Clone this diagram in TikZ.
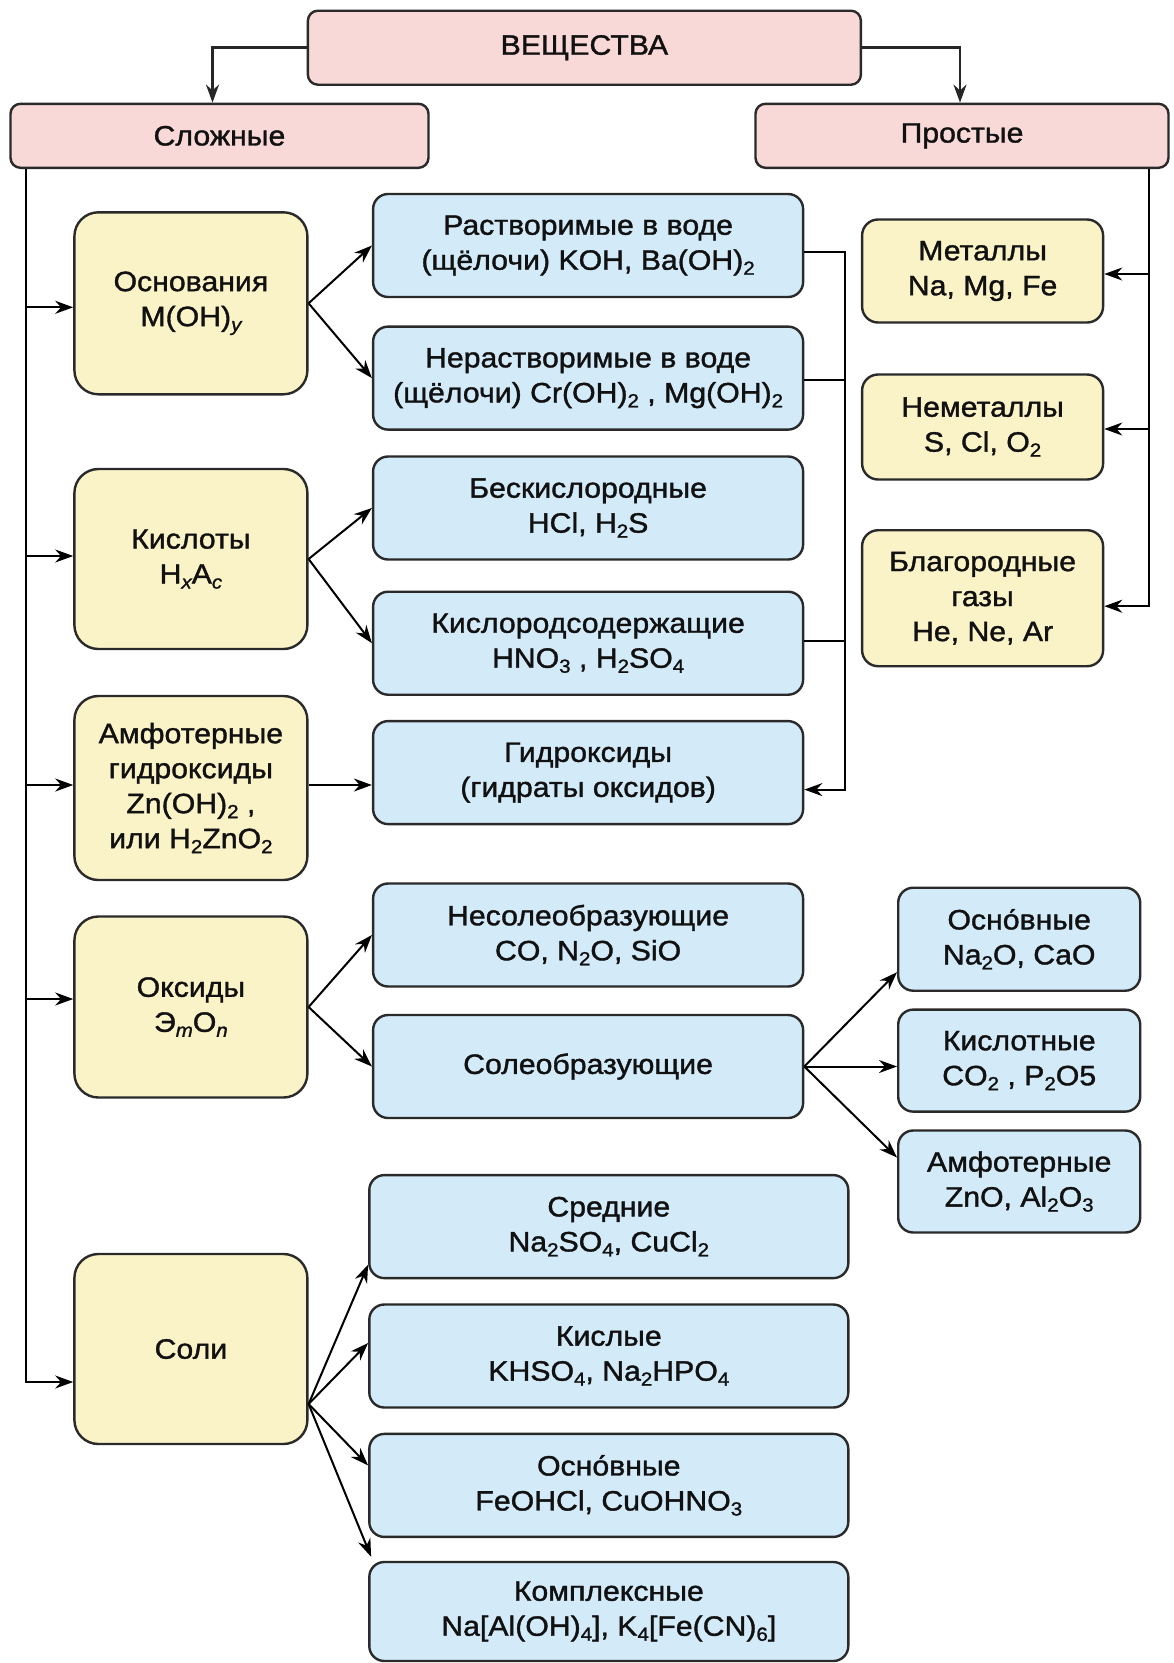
\documentclass[tikz,border=0pt]{standalone}
\usepackage{fontspec}
\setmainfont{Liberation Sans}[FakeStretch=1.08,FakeBold=1.3]
\usetikzlibrary{arrows.meta}
\definecolor{pinkc}{HTML}{F9D9D7}
\definecolor{yelc}{HTML}{FBF3C8}
\definecolor{bluec}{HTML}{D3EAF8}
\definecolor{bordc}{HTML}{2A2A2A}
\definecolor{txtc}{HTML}{111111}
\newcommand\fs{\fontsize{28}{35}\selectfont}
\newcommand\sbs[1]{\raisebox{-5pt}{\fontsize{19}{19}\selectfont #1}}
\begin{document}
\begin{tikzpicture}[x=1pt,y=-1pt,
  box/.style={draw=bordc, line width=2.4pt, align=center, inner sep=0pt, font=\fs, text=txtc},
  pinkbox/.style={box, fill=pinkc, rounded corners=10pt},
  yelbox/.style={box, fill=yelc, rounded corners=24pt},
  yelsbox/.style={box, fill=yelc, rounded corners=16pt},
  bluebox/.style={box, fill=bluec, rounded corners=15pt},
  line/.style={draw=black, line width=2pt},
  arr/.style={line, -{Stealth[length=18pt,width=13pt]}},
  toparr/.style={draw=black!85, line width=2.6pt, -{Stealth[length=18pt,width=13pt]}},
]
\useasboundingbox (0,0) rectangle (1173,1663);
\fill[white] (0,0) rectangle (1173,1663);

% top level
\node[pinkbox, minimum width=553pt, minimum height=74pt] (vesh) at (584.4,47.7) {ВЕЩЕСТВА};
\node[pinkbox, minimum width=418pt, minimum height=64pt] (slozh) at (219.5,135.8) {Сложные};
\node[pinkbox, minimum width=413pt, minimum height=64pt] (prost) at (962,135.8) {Простые};

% left yellow column
\node[yelbox, minimum width=233pt, minimum height=182pt] (osn) at (190.9,303.3) {Основания\\M(OH)\sbs{\itshape y}};
\node[yelbox, minimum width=233pt, minimum height=180pt] (kisl) at (190.9,559) {Кислоты\\H\sbs{\itshape x}A\sbs{\itshape c}};
\node[yelbox, minimum width=233pt, minimum height=184pt] (amf) at (190.9,788) {Амфотерные\\гидроксиды\\Zn(OH)\sbs{2} ,\\или H\sbs{2}ZnO\sbs{2}};
\node[yelbox, minimum width=233pt, minimum height=181pt] (oks) at (190.9,1007) {Оксиды\\Э\sbs{\itshape m}O\sbs{\itshape n}};
\node[yelbox, minimum width=233pt, minimum height=190pt] (soli) at (190.9,1349) {Соли};

% middle blue column
\node[bluebox, minimum width=430pt, minimum height=103pt] (rastv) at (588.1,245.5) {Растворимые в воде\\(щёлочи) KOH, Ba(OH)\sbs{2}};
\node[bluebox, minimum width=430pt, minimum height=103pt] (nerastv) at (588.1,378.1) {Нерастворимые в воде\\(щёлочи) Cr(OH)\sbs{2} , Mg(OH)\sbs{2}};
\node[bluebox, minimum width=430pt, minimum height=103pt] (besk) at (588.1,508) {Бескислородные\\HCl, H\sbs{2}S};
\node[bluebox, minimum width=430pt, minimum height=103pt] (kislsod) at (588.1,643.2) {Кислородсодержащие\\HNO\sbs{3} , H\sbs{2}SO\sbs{4}};
\node[bluebox, minimum width=430pt, minimum height=103pt] (gidr) at (588.1,772.6) {Гидроксиды\\(гидраты оксидов)};
\node[bluebox, minimum width=430pt, minimum height=103pt] (nesol) at (588.1,935) {Несолеобразующие\\CO, N\sbs{2}O, SiO};
\node[bluebox, minimum width=430pt, minimum height=103pt] (soleobr) at (588.1,1066.5) {Солеобразующие};

% salts
\node[bluebox, minimum width=479pt, minimum height=103pt] (sred) at (608.8,1226.6) {Средние\\Na\sbs{2}SO\sbs{4}, CuCl\sbs{2}};
\node[bluebox, minimum width=479pt, minimum height=103pt] (kisly) at (608.8,1356) {Кислые\\KHSO\sbs{4}, Na\sbs{2}HPO\sbs{4}};
\node[bluebox, minimum width=479pt, minimum height=103pt] (osnS) at (608.8,1485.4) {Осно́вные\\FeOHCl, CuOHNO\sbs{3}};
\node[bluebox, minimum width=479pt, minimum height=99pt] (kompl) at (608.8,1611.5) {Комплексные\\Na[Al(OH)\sbs{4}], K\sbs{4}[Fe(CN)\sbs{6}]};

% right yellow
\node[yelsbox, minimum width=241pt, minimum height=103pt] (met) at (982.6,271) {Металлы\\Na, Mg, Fe};
\node[yelsbox, minimum width=241pt, minimum height=105pt] (nemet) at (982.6,427) {Неметаллы\\S, Cl, O\sbs{2}};
\node[yelsbox, minimum width=241pt, minimum height=136pt] (blag) at (982.6,598.2) {Благородные\\газы\\He, Ne, Ar};

% right blue (oxides)
\node[bluebox, minimum width=242pt, minimum height=103pt] (osnO) at (1019.2,939.2) {Осно́вные\\Na\sbs{2}O, CaO};
\node[bluebox, minimum width=242pt, minimum height=102pt] (kislO) at (1019.2,1060.6) {Кислотные\\CO\sbs{2} , P\sbs{2}O5};
\node[bluebox, minimum width=242pt, minimum height=102pt] (amfO) at (1019.2,1181.5) {Амфотерные\\ZnO, Al\sbs{2}O\sbs{3}};

% trunk reference coordinates
\coordinate (ltx) at (25.5,0);
\coordinate (rtx) at (1148.6,0);
\coordinate (cx) at (845.3,0);

% top arrows
\draw[toparr] (vesh.west) -| ([xshift=-7pt]slozh.north);
\draw[toparr] (vesh.east) -| ([xshift=-2pt]prost.north);

% left trunk
\draw[arr] (slozh.south -| ltx) |- ([yshift=-33pt]soli.west);
\draw[arr] ([yshift=-4pt]osn.west -| ltx) -- ([yshift=-4pt]osn.west);
\draw[arr] ([yshift=3pt]kisl.west -| ltx) -- ([yshift=3pt]kisl.west);
\draw[arr] ([yshift=3pt]amf.west -| ltx) -- ([yshift=3pt]amf.west);
\draw[arr] ([yshift=8pt]oks.west -| ltx) -- ([yshift=8pt]oks.west);

% right trunk
\draw[arr] (prost.south -| rtx) |- ([yshift=-8pt]blag.east);
\draw[arr] ([yshift=-3pt]met.east -| rtx) -- ([yshift=-3pt]met.east);
\draw[arr] ([yshift=-2pt]nemet.east -| rtx) -- ([yshift=-2pt]nemet.east);

% bases and acids
\draw[arr] (osn.east) -- (rastv.west);
\draw[arr] (osn.east) -- (nerastv.west);
\draw[arr] (kisl.east) -- (besk.west);
\draw[arr] (kisl.east) -- (kislsod.west);
\draw[arr] ([yshift=3pt]amf.east) -- ([yshift=3pt]amf.east -| gidr.west);

% collector to hydroxides
\draw[arr] ([yshift=-6pt]rastv.east) -- ([yshift=-6pt]rastv.east -| cx) |- ([yshift=-17pt]gidr.east);
\draw[line] ([yshift=-2pt]nerastv.east) -- ([yshift=-2pt]nerastv.east -| cx);
\draw[line] ([yshift=2pt]kislsod.east) -- ([yshift=2pt]kislsod.east -| cx);

% oxides
\draw[arr] (oks.east) -- (nesol.west);
\draw[arr] (oks.east) -- (soleobr.west);
\draw[arr] (soleobr.east) -- ([yshift=-33pt]osnO.west);
\draw[arr] (soleobr.east) -- (soleobr.east -| kislO.west);
\draw[arr] (soleobr.east) -- ([yshift=24pt]amfO.west);

% salts
\draw[arr] ([yshift=-55pt]soli.east) -- ([yshift=-38pt]sred.west);
\draw[arr] ([yshift=-55pt]soli.east) -- ([yshift=13pt]kisly.west);
\draw[arr] ([yshift=-55pt]soli.east) -- ([yshift=20pt]osnS.west);
\draw[arr] ([yshift=-55pt]soli.east) -- ([shift={(3pt,4pt)}]kompl.north west);
\end{tikzpicture}
\end{document}
